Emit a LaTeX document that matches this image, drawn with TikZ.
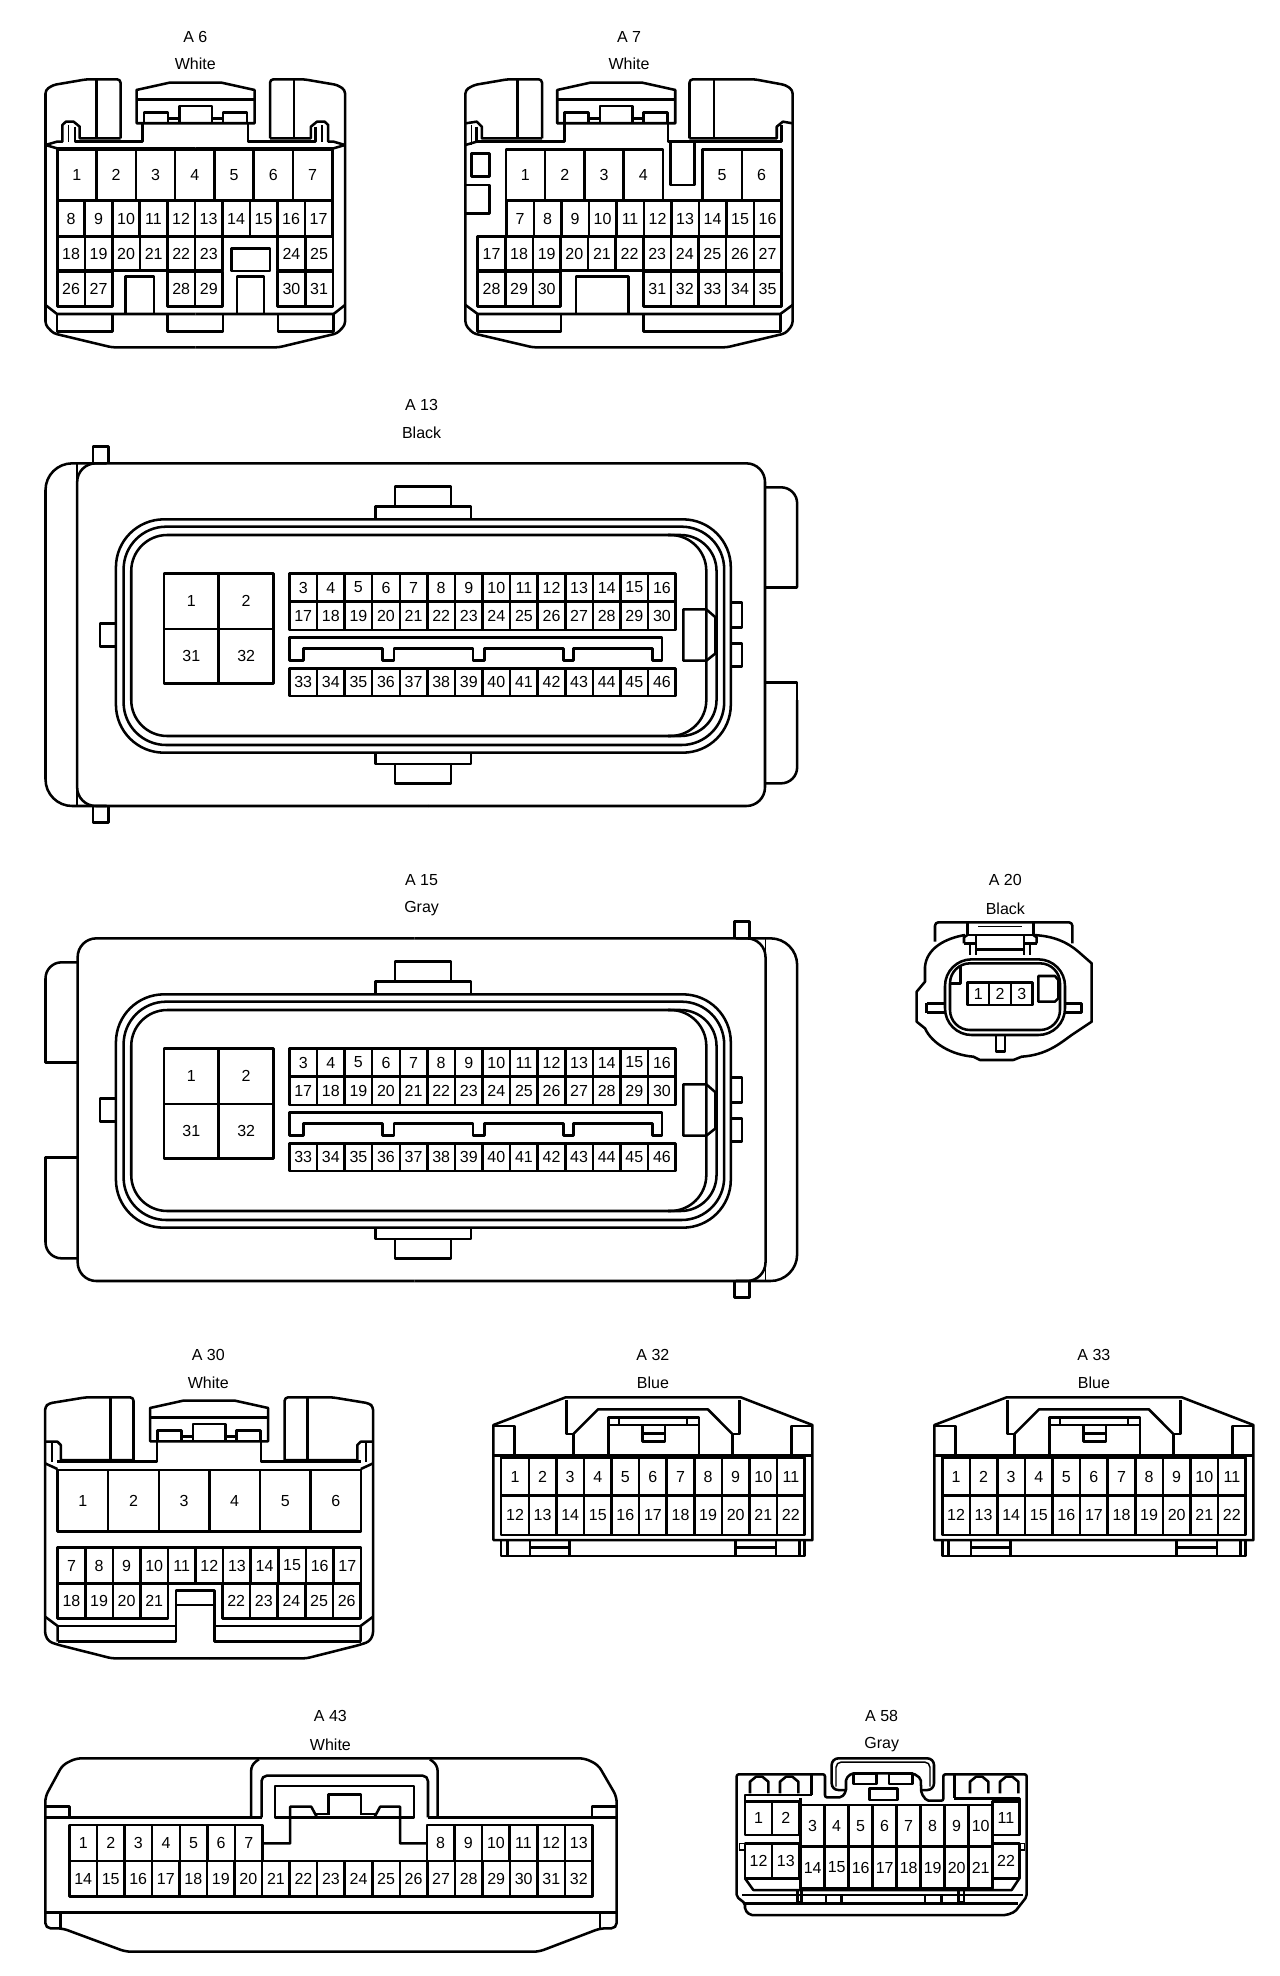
\documentclass[tikz,border=0pt]{standalone}
\usepackage{fontspec}
\setmainfont{Liberation Sans}
\tikzset{
  wire/.style   = {draw, line width=1.9pt, line join=round},
  fine/.style   = {draw, line width=1.1pt},
  pinnum/.style = {font=\fontsize{12}{12}\selectfont, inner sep=0pt},
  tag/.style    = {font=\fontsize{12}{12}\selectfont, inner sep=0pt},
  viewA/.style  = {shift={(20,10)}, x=.3827pt, y=-.25pt},
  viewB/.style  = {shift={(20,#1)}, x=.3827pt, y=-.25pt},
  viewC/.style  = {shift={#1}, x=.3923pt, y=-.25pt},
  viewD/.style  = {shift={(30,1680)}, x=.287pt, y=-.25pt},
  viewE/.style  = {shift={#1}, x=.25pt, y=-.25pt}
}
% name, left, top, width, height, first, last
\newcommand{\pinrow}[7]{
  \foreach \n in {#6,...,#7} {
    \pgfmathsetmacro{\xa}{#2+(\n-#6)*#4}
    \draw[wire] (\xa,#3) rectangle ++(#4,#5);
    \node[pinnum] (#1-\n) at ({\xa+#4/2},{#3+#5/2}) {\n};
  }
}
% locking tab, centre and top
\newcommand{\locktab}[2]{
  \begin{scope}[shift={(#1,#2)}, x=.75pt, y=-.75pt]
    \draw[wire] (-59,40.6) -- (-59,7.3) -- (-26,0) -- (26,0) -- (59,7.3) -- (59,40.6) -- cycle;
    \draw[wire] (-59,16.6) -- (59,16.6);
    \foreach \s in {1,-1} {
      \draw[wire] (\s*-51.5,40.6) -- (\s*-51.5,30) -- (\s*-27.5,30) -- (\s*-27.5,40.6);
      \draw[wire] (\s*-27.5,35.6) -- (\s*-16.3,35.6);
    }
    \draw[wire] (-16.3,40.6) -- (-16.3,23.3) -- (16.3,23.3) -- (16.3,40.6);
  \end{scope}
}
\newcommand{\ecushell}{
  \draw[wire, rounded corners=20pt] (800,250) -- (50,250) -- (50,1278) -- (800,1278);
  \draw[wire, rounded corners=14pt] (800,250) -- (1460,250) -- (1460,1278) -- (800,1278);
  \draw[wire, rounded corners=14pt] (170,250) -- (112,250) -- (112,1278) -- (170,1278);
  \draw[fine] (112,250) -- (112,1278);
  \draw[wire] (143,250) -- (143,200) -- (173,200) -- (173,250);
  \draw[wire] (143,1278) -- (143,1328) -- (173,1328) -- (173,1278);
  \draw[wire, rounded corners=12pt] (1460,322) -- (1523,322) -- (1523,622);
  \draw[wire] (1523,560) -- (1523,622) -- (1460,622);
  \draw[wire, rounded corners=12pt] (1523,960) -- (1523,1210) -- (1460,1210);
  \draw[wire] (1523,1000) -- (1523,908) -- (1460,908);
}
\newcommand{\ecuface}[1]{
  \draw[wire] (697,415) -- (697,380) -- (884,380) -- (884,415);
  \draw[wire] (735,380) -- (735,320) -- (845,320) -- (845,380);
  \draw[wire] (697,1118) -- (697,1152) -- (884,1152) -- (884,1118);
  \draw[wire] (735,1152) -- (735,1210) -- (845,1210) -- (845,1152);
  \draw[wire, rounded corners=36pt] (188,418) rectangle (1393,1118);
  \draw[wire, rounded corners=32pt] (203,440) rectangle (1380,1095);
  \draw[wire, rounded corners=27pt] (218,465) rectangle (1345,1068);
  \draw[wire, rounded corners=27pt] (1270,465) -- (1365,465) -- (1365,1068) -- (1270,1068);
  \draw[wire] (188,730) -- (157,730) -- (157,800) -- (188,800);
  \draw[wire] (1393,668) -- (1415,668) -- (1415,742) -- (1393,742);
  \draw[wire] (1393,790) -- (1415,790) -- (1415,860) -- (1393,860);
  \draw[wire] (1300,688) -- (1345,688) -- (1363,712) -- (1363,820) -- (1345,842) -- (1300,842) -- cycle;
  \draw[wire] (528,842) -- (528,772) -- (1258,772) -- (1258,842) -- (1240,842) -- (1240,805) -- (1085,805)
    -- (1085,842) -- (1065,842) -- (1065,805) -- (910,805) -- (910,842) -- (888,842) -- (888,805)
    -- (733,805) -- (733,842) -- (710,842) -- (710,805) -- (556,805) -- (556,842) -- cycle;
  \pinrow{#1}{282}{580}{107.5}{167}{1}{2}
  \pinrow{#1}{282}{747}{107.5}{163}{31}{32}
  \pinrow{#1}{528}{580}{54.07}{85}{3}{16}
  \pinrow{#1}{528}{665}{54.07}{85}{17}{30}
  \pinrow{#1}{528}{865}{54.07}{83}{33}{46}
}
\newcommand{\bluebody}[2]{
  \node[tag] (#1tag) at (1210,105) {#2};
  \node[tag] (#1col) at (1210,188) {Blue};
  \draw[wire] (905,660) -- (905,315) -- (1043,232) -- (1378,232) -- (1515,315) -- (1515,660) -- cycle;
  \draw[wire] (1045,240) -- (1045,342) -- (1058,342) -- (1058,407) -- (905,407);
  \draw[wire] (1375,240) -- (1375,342) -- (1362,342) -- (1362,407) -- (1515,407);
  \draw[wire] (1058,342) -- (1105,268) -- (1315,268) -- (1362,342);
  \draw[wire] (1058,407) -- (1362,407);
  \draw[wire] (1125,407) -- (1125,292) -- (1298,292) -- (1298,407);
  \draw[wire] (1125,315) -- (1298,315);
  \draw[fine] (1145,292) -- (1145,315);
  \draw[fine] (1275,292) -- (1275,315);
  \draw[wire] (1190,315) -- (1190,365) -- (1233,365) -- (1233,315);
  \draw[wire] (1190,340) -- (1233,340);
  \draw[wire] (905,318) -- (945,318) -- (945,405);
  \draw[wire] (1515,318) -- (1475,318) -- (1475,405);
  \draw[wire] (920,660) -- (920,708) -- (1500,708) -- (1500,660);
  \draw[wire] (932,660) -- (932,708);
  \draw[wire] (1490,660) -- (1490,708);
  \draw[wire] (975,660) -- (975,708);
  \draw[wire] (1050,660) -- (1050,708);
  \draw[wire] (975,683) -- (1050,683);
  \draw[wire] (1368,660) -- (1368,708);
  \draw[wire] (1445,660) -- (1445,708);
  \draw[wire] (1368,683) -- (1445,683);
  \pinrow{#1}{920}{413}{52.73}{114}{1}{11}
  \pinrow{#1}{920}{527}{52.73}{118}{12}{22}
}
\begin{document}
\begin{tikzpicture}[x=.75pt, y=-.75pt]
  \useasboundingbox[fill=white] (0,0) rectangle (1280,1976);

  % A 6
  \begin{scope}[viewA]
    \node[tag] (a6tag) at (343.5,80) {A 6};
    \node[tag] (a6col) at (343.5,162) {White};
    \foreach \s in {1,-1} {
      \begin{scope}[shift={(343.5,0)}, xscale=\s]
        \draw[wire, rounded corners=2.5pt] (0,1012) -- (-163.5,1012) -- (-278,970) -- (-293.5,945) -- (-293.5,240)
          -- (-278.5,225) -- (-213.5,208) -- (-146.5,208) -- (-146.5,385);
        \draw[wire] (-193.5,208) -- (-193.5,385);
        \draw[wire] (-293.5,405) -- (-271,395) -- (-260.5,395) -- (-260.5,345) -- (-253.5,335)
          -- (-238.5,335) -- (-226.5,350) -- (-226.5,385) -- (-146.5,385);
        \draw[fine] (-248.5,345) -- (-248.5,395);
        \draw[wire] (-235.5,350) -- (-235.5,395) -- (-103.5,395) -- (-103.5,340);
        \draw[wire] (-293.5,405) -- (-271,415) -- (0,415);
        \draw[wire] (-293.5,885) -- (-271,912) -- (0,912);
        \draw[wire] (-271,912) -- (-271,965) -- (-162.5,965) -- (-162.5,912);
        \draw[wire] (-54.5,912) -- (-54.5,965) -- (0,965);
      \end{scope}
    }
    \locktab{344}{218}
    \draw[wire] (207,912) -- (207,800) -- (263,800) -- (263,912);
    \draw[wire] (425,912) -- (425,800) -- (478,800) -- (478,912);
    \draw[wire] (414,715) rectangle (490,783);
    \pinrow{A6}{73}{418}{77}{154}{1}{7}
    \pinrow{A6}{73}{572}{53.9}{108}{8}{17}
    \pinrow{A6}{73}{680}{54}{102}{18}{23}
    \pinrow{A6}{505}{680}{54}{102}{24}{25}
    \pinrow{A6}{73}{785}{54}{105}{26}{27}
    \pinrow{A6}{289}{785}{54}{105}{28}{29}
    \pinrow{A6}{505}{785}{54}{105}{30}{31}
  \end{scope}

  % A 7
  \begin{scope}[viewA]
    \node[tag] (a7tag) at (1193.5,80) {A 7};
    \node[tag] (a7col) at (1193.5,162) {White};
    \draw[wire, rounded corners=2.5pt] (1023,385) -- (1023,208) -- (955,208) -- (890,225) -- (873,240)
      -- (873,945) -- (888,970) -- (1005,1012) -- (1385,1012) -- (1500,970) -- (1514,945) -- (1514,240)
      -- (1500,225) -- (1440,208) -- (1312,208) -- (1312,385);
    \draw[wire] (975,208) -- (975,385);
    \draw[wire] (1360,208) -- (1360,385);
    \draw[wire] (873,340) -- (895,335) -- (905,350) -- (905,385) -- (1023,385);
    \draw[fine] (885,345) -- (885,405);
    \draw[wire] (895,350) -- (895,395) -- (1067,395) -- (1067,340);
    \draw[wire] (1312,385) -- (1483,385) -- (1483,350) -- (1495,335) -- (1514,340);
    \draw[wire] (1270,340) -- (1270,395) -- (1492,395) -- (1492,345);
    \draw[wire] (1275,395) -- (1275,525) -- (1322,525) -- (1322,395);
    \draw[wire] (873,405) -- (895,395);
    \draw[wire] (885,430) rectangle (920,500);
    \draw[wire] (873,525) -- (920,525) -- (920,610) -- (873,610);
    \draw[wire] (873,885) -- (897,912) -- (1490,912) -- (1514,885);
    \draw[wire] (897,912) -- (897,965) -- (1060,965) -- (1060,912);
    \draw[wire] (1222,912) -- (1222,965) -- (1490,965) -- (1490,912);
    \draw[wire] (1090,912) -- (1090,800) -- (1192,800) -- (1192,912);
    \locktab{1168.5}{218}
    \pinrow{A7}{952}{418}{77}{154}{1}{4}
    \pinrow{A7}{1337}{418}{77.5}{154}{5}{6}
    \pinrow{A7}{953}{572}{53.9}{108}{7}{16}
    \pinrow{A7}{897}{680}{54.1}{102}{17}{27}
    \pinrow{A7}{897}{785}{54.1}{105}{28}{30}
    \pinrow{A7}{1222}{785}{54}{105}{31}{35}
  \end{scope}

  % A 13
  \begin{scope}[viewB=380]
    \node[tag] (a13tag) at (787,75) {A 13};
    \node[tag] (a13col) at (787,158) {Black};
    \ecushell
    \ecuface{A13}
  \end{scope}

  % A 15
  \begin{scope}[viewB=855]
    \node[tag] (a15tag) at (787,75) {A 15};
    \node[tag] (a15col) at (787,162) {Gray};
    \begin{scope}[shift={(786.5,0)}, xscale=-1, shift={(-786.5,0)}]
      \ecushell
    \end{scope}
    \ecuface{A15}
  \end{scope}

  % A 20
  \begin{scope}[viewE={(890,860)}]
    \node[tag] (a20tag) at (346,60) {A 20};
    \node[tag] (a20col) at (346,145) {Black};
    \draw[wire, rounded corners=2.5pt] (135,245) -- (135,187) -- (547,187) -- (547,250);
    \draw[wire] (225,225) .. controls (165,235) and (110,265) .. (105,320) -- (105,365) -- (80,395) -- (80,485)
      -- (105,505) .. controls (125,550) and (185,585) .. (250,590) -- (270,600) -- (370,600) -- (395,590)
      .. controls (470,585) and (510,550) .. (545,525) -- (605,485) -- (605,310) -- (565,275)
      .. controls (530,245) and (490,228) .. (430,225);
    \draw[wire] (232,187) -- (232,225) -- (430,225) -- (430,187);
    \draw[fine] (265,200) -- (395,200);
    \draw[wire] (222,250) -- (222,232) -- (232,225);
    \draw[wire] (440,250) -- (440,232) -- (430,225);
    \draw[wire] (222,250) -- (258,250);
    \draw[wire] (402,250) -- (440,250);
    \draw[wire] (240,250) -- (240,285);
    \draw[wire] (258,225) -- (258,285);
    \draw[wire] (402,225) -- (402,285);
    \draw[wire] (420,250) -- (420,285);
    \draw[wire] (258,268) -- (402,268);
    \draw[wire, rounded corners=20pt] (165,298) rectangle (525,525);
    \draw[wire, rounded corners=15pt] (180,310) rectangle (510,510);
    \draw[wire] (182,370) -- (212,370) -- (212,318);
    \draw[wire] (110,430) -- (165,430);
    \draw[wire] (110,458) -- (165,458);
    \draw[wire] (110,430) -- (110,458);
    \draw[wire] (525,430) -- (575,430) -- (575,458) -- (525,458);
    \draw[wire] (318,525) -- (318,575) -- (345,575) -- (345,525);
    \draw[wire] (445,348) -- (495,348) -- (505,360) -- (505,415) -- (495,425) -- (445,425) -- cycle;
    \pinrow{A20}{232}{368}{65.3}{67}{1}{3}
  \end{scope}

  % A 30
  \begin{scope}[viewC={(20,1320)}]
    \node[tag] (a30tag) at (360,105) {A 30};
    \node[tag] (a30col) at (360,188) {White};
    \foreach \s in {1,-1} {
      \begin{scope}[shift={(361.5,0)}, xscale=\s]
        \draw[wire, rounded corners=2.5pt] (0,1015) -- (-186,1015) -- (-287,975) -- (-306,965) -- (-313.5,945) -- (-313.5,260)
          -- (-306,250) -- (-236,232) -- (-144.5,232) -- (-144.5,420);
        \draw[wire] (-188.5,235) -- (-188.5,420);
        \draw[wire] (-313.5,365) -- (-290,365) -- (-283.5,375) -- (-283.5,420) -- (-144.5,420);
        \draw[fine] (-300,370) -- (-300,425);
        \draw[wire] (-290,425) -- (-99.5,425) -- (-99.5,365);
        \draw[wire] (-313.5,430) -- (-290,447);
        \draw[wire] (-313.5,890) -- (-289.5,918) -- (-289.5,965);
      \end{scope}
    }
    \draw[wire] (72,918) -- (298,918);
    \draw[wire] (372,918) -- (651,918);
    \draw[wire] (72,965) -- (298,965) -- (298,812) -- (372,812) -- (372,965) -- (651,965);
    \draw[wire] (298,855) -- (372,855);
    \locktab{361.5}{242}
    \pinrow{A30}{72}{450}{96.67}{185}{1}{6}
    \pinrow{A30}{72}{683}{52.73}{107}{7}{17}
    \pinrow{A30}{72}{790}{52.73}{105}{18}{21}
    \pinrow{A30}{387}{790}{52.8}{105}{22}{26}
  \end{scope}

  % A 32
  \begin{scope}[viewC={(20,1320)}]
    \bluebody{A32}{A 32}
  \end{scope}

  % A 33
  \begin{scope}[viewC={(461,1320)}]
    \bluebody{A33}{A 33}
  \end{scope}

  % A 43
  \begin{scope}[viewD]
    \node[tag] (a43tag) at (785,108) {A 43};
    \node[tag] (a43col) at (785,193) {White};
    \draw[wire, rounded corners=4pt] (250,815) -- (85,745) -- (40,745) -- (40,350) -- (85,255) -- (120,235) -- (1450,235)
      -- (1485,255) -- (1533,350) -- (1533,745) -- (1490,745) -- (1330,815) -- cycle;
    \draw[wire] (40,697) -- (1533,697);
    \draw[wire] (80,697) -- (80,745);
    \draw[wire] (1490,697) -- (1490,745);
    \draw[wire] (40,380) -- (103,380) -- (103,412);
    \draw[wire] (1533,380) -- (1468,380) -- (1468,412);
    \draw[wire] (40,412) -- (605,412);
    \draw[wire] (1040,412) -- (1533,412);
    \draw[wire, rounded corners=4pt] (578,412) -- (578,255) -- (598,238);
    \draw[wire, rounded corners=4pt] (1065,412) -- (1065,255) -- (1045,238);
    \draw[wire, rounded corners=4pt] (605,412) -- (605,287) -- (1040,287) -- (1040,412);
    \draw[wire] (640,318) rectangle (1003,412);
    \draw[wire] (610,490) -- (680,490) -- (680,380) -- (735,380) -- (750,412);
    \draw[wire] (780,405) -- (780,343) -- (865,343) -- (865,405);
    \draw[wire] (745,402) -- (780,402);
    \draw[wire] (865,402) -- (905,402);
    \draw[wire] (900,412) -- (915,380) -- (967,380) -- (967,490) -- (1035,490);
    \pinrow{A43}{103}{435}{72.1}{108}{1}{7}
    \pinrow{A43}{1037}{435}{72.2}{108}{8}{13}
    \pinrow{A43}{103}{543}{71.95}{107}{14}{32}
  \end{scope}

  % A 58
  \begin{scope}[viewE={(710,1680)}]
    \node[tag] (a58tag) at (515,108) {A 58};
    \node[tag] (a58col) at (515,193) {Gray};
    \draw[wire, rounded corners=1.5pt] (80,650) -- (80,283) -- (345,283) -- (345,352) -- (395,352) -- (408,335) -- (408,295)
      -- (425,280) -- (610,280) -- (632,295) -- (634,340) -- (650,362) -- (700,362) -- (700,283) -- (950,283) -- (950,650)
      -- (915,695) -- (890,705) -- (120,705) -- (105,690) -- (105,670) -- cycle;
    \draw[wire, rounded corners=5pt] (405,330) -- (365,330) -- (365,235) -- (672,235) -- (672,330) -- (635,330);
    \draw[fine, rounded corners=4pt] (378,320) -- (378,246) -- (660,246) -- (660,320);
    \draw[wire] (430,280) rectangle (500,312);
    \draw[wire] (537,280) rectangle (607,312);
    \draw[wire] (478,325) rectangle (563,360);
    \foreach \bx in {120,210,780,870}
      \draw[wire] (\bx,340) -- (\bx,305) -- (\bx+18,290) -- (\bx+37,290) -- (\bx+55,305) -- (\bx+55,340);
    \draw[wire] (305,283) -- (305,345);
    \draw[wire] (733,283) -- (733,355);
    \draw[wire] (105,365) -- (105,345) -- (305,345);
    \draw[wire] (272,355) -- (272,375);
    \draw[wire] (733,355) -- (928,355) -- (928,365);
    \draw[wire] (105,595) -- (130,630) -- (905,630) -- (928,595);
    \draw[wire] (97,645) -- (940,645);
    \draw[wire] (105,670) -- (925,670);
    \draw[wire] (262,630) -- (262,668) -- (275,668) -- (275,630);
    \draw[wire] (745,630) -- (745,668) -- (762,668) -- (762,630);
    \foreach \bx in {348,395,645,695}
      \draw[wire] (\bx,645) -- (\bx,670);
    \draw[fine] (88,490) rectangle (104,510);
    \draw[fine] (928,490) rectangle (944,510);
    \pinrow{A58}{105}{365}{81.5}{100}{1}{2}
    \pinrow{A58}{105}{490}{81.5}{105}{12}{13}
    \pinrow{A58}{272}{375}{72}{125}{3}{10}
    \pinrow{A58}{272}{500}{72}{125}{14}{21}
    \pinrow{A58}{848}{365}{80}{100}{11}{11}
    \pinrow{A58}{848}{490}{80}{105}{22}{22}
  \end{scope}
\end{tikzpicture}
\end{document}
